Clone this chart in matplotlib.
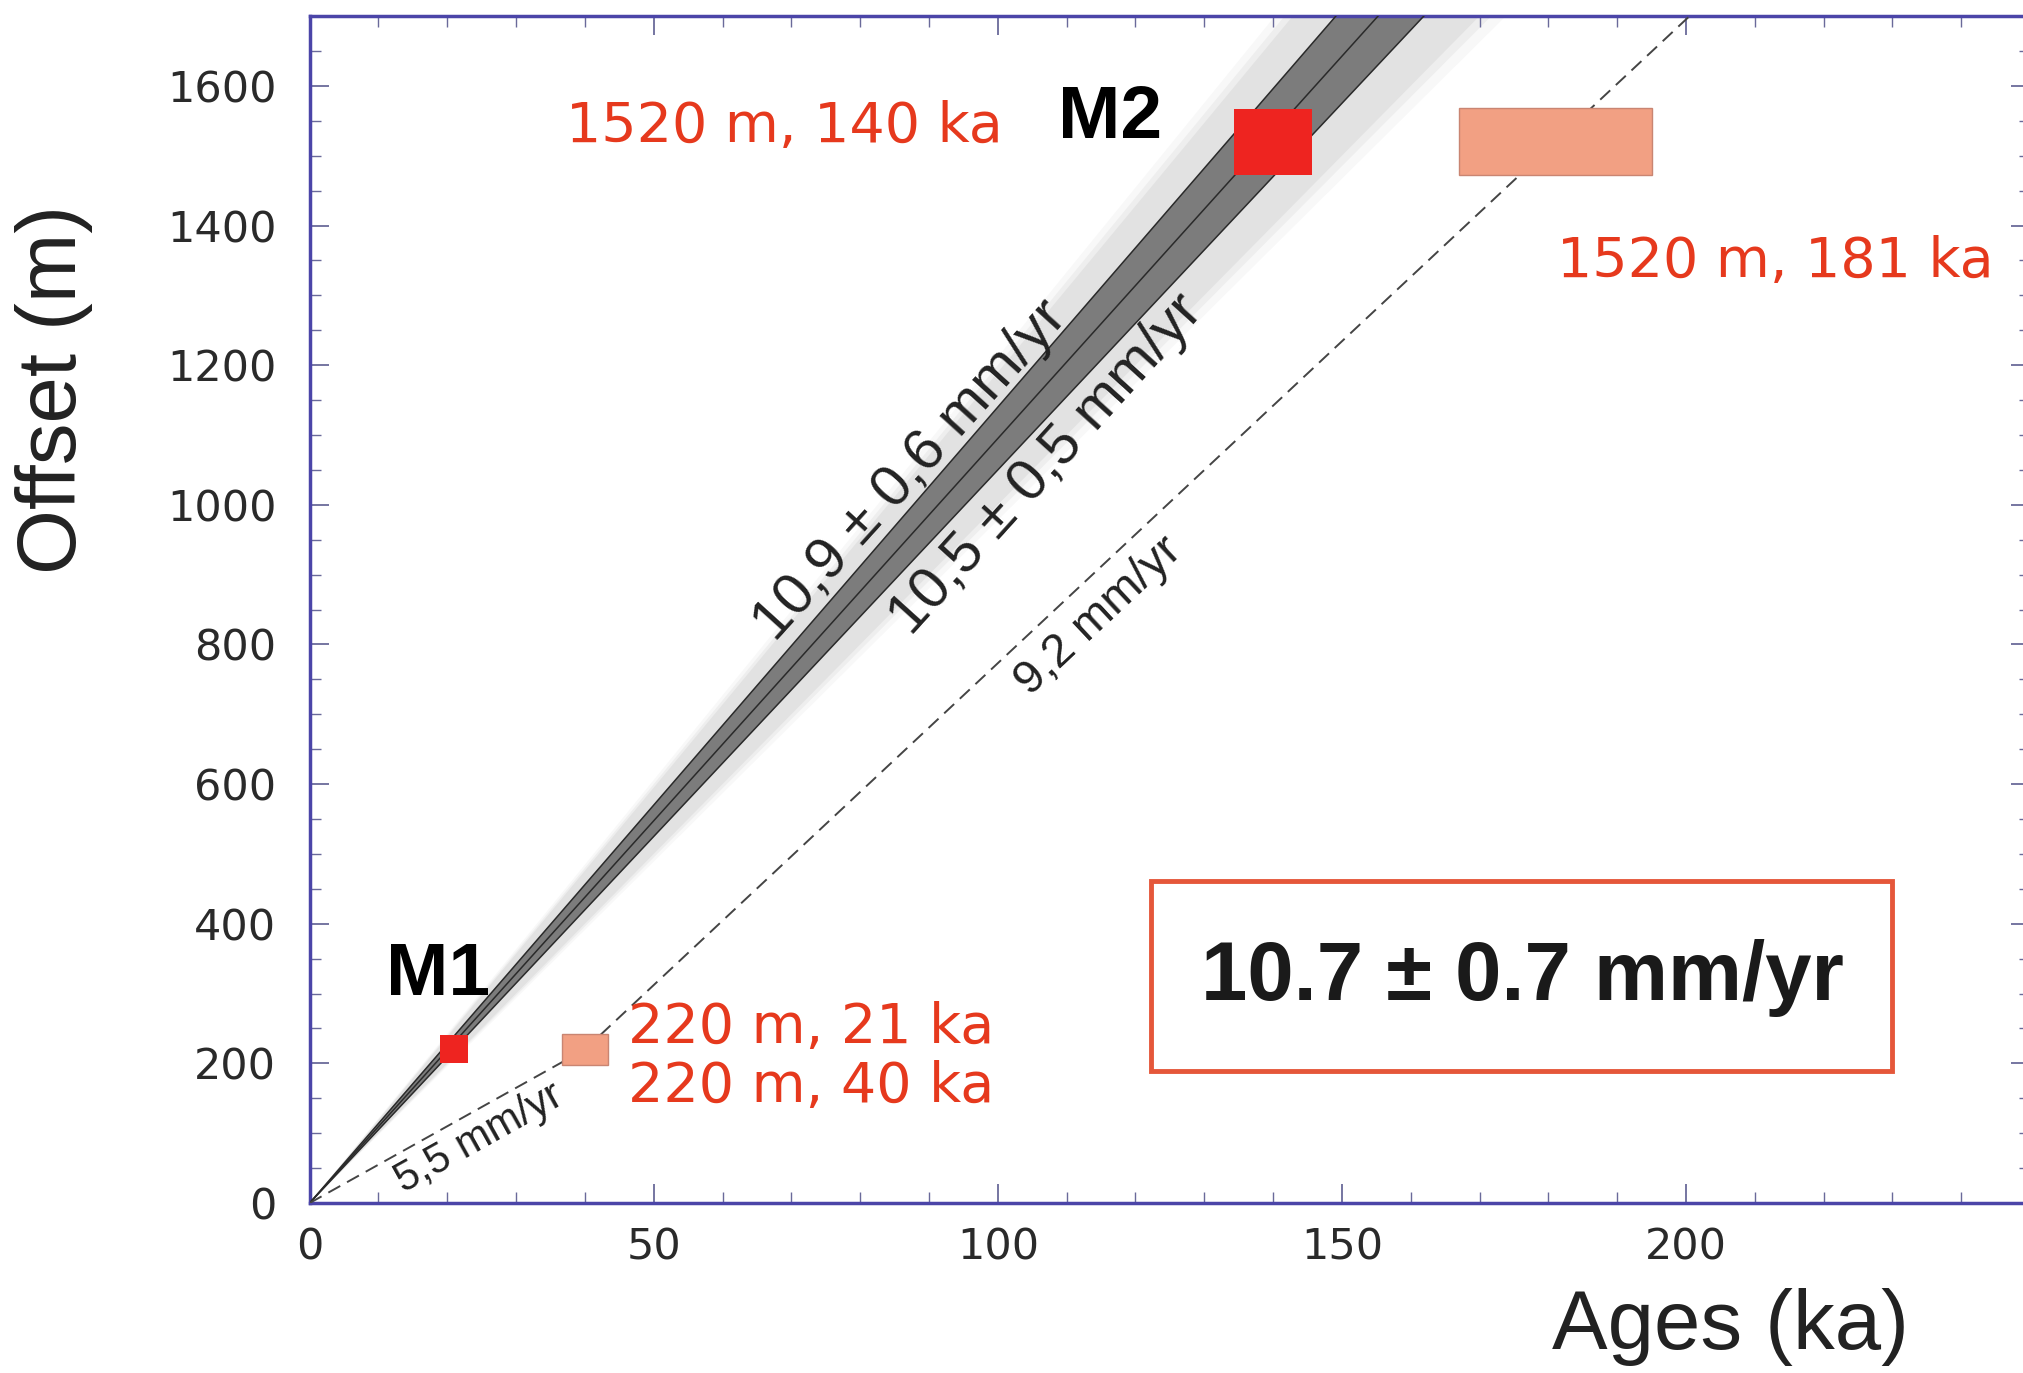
import matplotlib.pyplot as plt
from matplotlib.patches import Rectangle
from matplotlib.ticker import MultipleLocator
import numpy as np

# ---- Data ----
sites = ["M1", "M2"]
offset_m = [220, 1520]
offset_err = [20, 47]
age_short = [21, 140]          # red boxes
age_short_err = [2.0, 5.7]
age_long = [40, 181]           # salmon boxes
age_long_err = [3.4, 14.0]
offset_long_err = [22, 48]
labels_short = ["220 m, 21 ka", "1520 m, 140 ka"]
labels_long = ["220 m, 40 ka", "1520 m, 181 ka"]

# slip-rate envelopes (mm/yr = m/ka)
band_halo = [10.1, 11.8]
band_dark = [10.5, 11.4]
band_lines = [10.5, 10.95, 11.4]
rate_text = ["10,9 \u00b1 0,6 mm/yr", "10,5 \u00b1 0,5 mm/yr", "9,2 mm/yr", "5,5 mm/yr"]
mean_rate = "10.7 \u00b1 0.7 mm/yr"

x_ticks = [0, 50, 100, 150, 200]
y_ticks = [0, 200, 400, 600, 800, 1000, 1200, 1400, 1600]

# ---- Style ----
plt.rcParams['font.family'] = ['Liberation Sans', 'DejaVu Sans']
red = '#ee2420'
salmon = '#f2a083'
txt_red = '#e6391d'
spine_col = '#4b45a8'

fig = plt.figure(figsize=(20.24, 13.73), dpi=100)
ax = fig.add_axes([0.153, 0.1238, 0.85, 0.8645])
ax.set_xlim(0, 250)
ax.set_ylim(0, 1700)

# ---- Rate bands ----
t = np.array([0, 250])
for k, a in [(1.6, 0.12), (1.0, 0.2), (0.5, 0.3)]:
    lo = band_halo[0] - 0.2 * k
    hi = band_halo[1] + 0.2 * k
    ax.fill_between(t, lo * t, hi * t, color='#c8c8c8', alpha=a, lw=0, zorder=1)
ax.fill_between(t, band_dark[0] * t, band_dark[1] * t, color='#7c7c7c', lw=0, zorder=2)
for s in band_lines:
    ax.plot(t, s * t, color='#2a2a2a', lw=1.1, zorder=3)

# ---- Dashed lines through the long-age boxes ----
ax.plot([0, age_long[0]], [0, offset_m[0]], ls=(0, (7, 4)), color='#444444', lw=1.4, zorder=3)
slope = (offset_m[1] - offset_m[0]) / (age_long[1] - age_long[0])
t_top = age_long[0] + (1700 - offset_m[0]) / slope
ax.plot([age_long[0], t_top], [offset_m[0], 1700], ls=(0, (7, 4)), color='#444444', lw=1.4, zorder=3)

# ---- Boxes ----
for i in range(len(sites)):
    ax.add_patch(Rectangle((age_short[i] - age_short_err[i], offset_m[i] - offset_err[i]),
                           2 * age_short_err[i], 2 * offset_err[i],
                           facecolor=red, edgecolor='none', zorder=5))
    ax.add_patch(Rectangle((age_long[i] - age_long_err[i], offset_m[i] - offset_long_err[i]),
                           2 * age_long_err[i], 2 * offset_long_err[i],
                           facecolor=salmon, edgecolor='#c98572', lw=1.0, zorder=5))

# ---- Labels ----
ax.text(18.6, 326, sites[0], fontsize=54, fontweight='bold', ha='center', va='center', zorder=6)
ax.text(116.3, 1554, sites[1], fontsize=54, fontweight='bold', ha='center', va='center', zorder=6)

red_font = dict(fontsize=40, color=txt_red, family=['DejaVu Sans'], va='center', ha='left', zorder=6)
ax.text(46.2, 250, labels_short[0], **red_font)
ax.text(46.2, 166, labels_long[0], **red_font)
ax.text(37.3, 1541, labels_short[1], **red_font)
ax.text(181.2, 1348, labels_long[1], **red_font)

rot = dict(ha='center', va='center', rotation_mode='anchor', transform_rotates_text=True,
           color='#222222', zorder=6)
ax.text(87.4, 1049, rate_text[0], fontsize=42, rotation=np.degrees(np.arctan(10.9)), **rot)
ax.text(107.1, 1058, rate_text[1], fontsize=42, rotation=np.degrees(np.arctan(10.9)), **rot)
ax.text(114.6, 840, rate_text[2], fontsize=34, rotation=np.degrees(np.arctan(slope)), **rot)
ax.text(24.6, 92, rate_text[3], fontsize=30, rotation=np.degrees(np.arctan(5.5)), **rot)

# mean rate box
ax.add_patch(Rectangle((122.3, 188.7), 107.7, 272, facecolor='none',
                       edgecolor='#e5573a', lw=3.5, zorder=6))
ax.text(176.2, 322, mean_rate, fontsize=60, fontweight='bold', ha='center', va='center',
        color='#1a1a1a', zorder=7)

# ---- Axes styling ----
for sp in ax.spines.values():
    sp.set_color(spine_col)
    sp.set_linewidth(2.5)
ax.set_xticks(x_ticks)
ax.set_yticks(y_ticks)
ax.xaxis.set_minor_locator(MultipleLocator(10))
ax.yaxis.set_minor_locator(MultipleLocator(50))
ax.tick_params(which='both', direction='in', top=True, right=True, color='#6a6a9a')
ax.tick_params(which='major', length=14, width=1.3)
ax.tick_params(which='minor', length=8, width=1.0)
ax.tick_params(axis='x', labelsize=31, pad=17, labelcolor='#2a2a2a')
ax.tick_params(axis='y', labelsize=31, pad=24, labelcolor='#2a2a2a')
for lab in ax.get_xticklabels() + ax.get_yticklabels():
    lab.set_family('DejaVu Sans')

ax.set_xlabel("Ages (ka)", fontsize=60, color='#222222')
ax.xaxis.set_label_coords(0.826, -0.072)
ax.set_ylabel("Offset (m)", fontsize=60, color='#222222')
ax.yaxis.set_label_coords(-0.126, 0.685)

fig.savefig("out.png", dpi=100)
